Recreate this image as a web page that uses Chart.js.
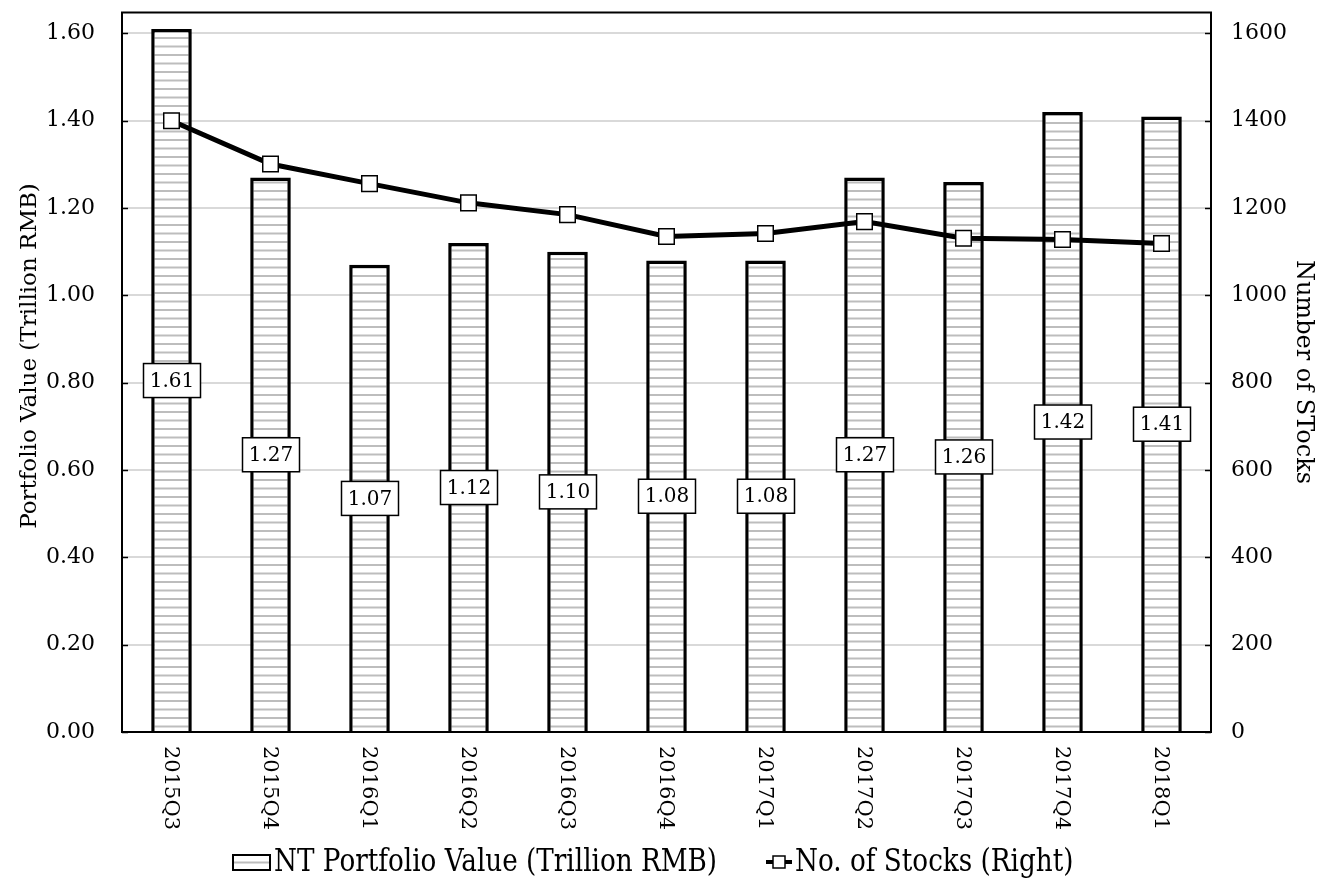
<!DOCTYPE html>
<html>
<head>
<meta charset="utf-8">
<script src="https://cdn.jsdelivr.net/npm/chart.js@4"></script>
<style>
  html, body { margin: 0; padding: 0; background: #fff; }
</style>
</head>
<body>
<canvas id="chart" width="1332" height="888"></canvas>
<script>
var quarters = ["2015Q3", "2015Q4", "2016Q1", "2016Q2", "2016Q3", "2016Q4", "2017Q1", "2017Q2", "2017Q3", "2017Q4", "2018Q1"];
var portfolioValue = [1.61, 1.27, 1.07, 1.12, 1.10, 1.08, 1.08, 1.27, 1.26, 1.42, 1.41];
var stockCount = [1400, 1301, 1256, 1212, 1185, 1135, 1142, 1169, 1131, 1128, 1119];
var barLabel = "NT Portfolio Value (Trillion RMB)";
var lineLabel = "No. of Stocks (Right)";
var leftTitle = "Portfolio Value (Trillion RMB)";
var rightTitle = "Number of STocks";

var serif = "'DejaVu Serif', serif";

// striped fill like the excel pattern
function makeStripes() {
  var c = document.createElement("canvas");
  c.width = 8;
  c.height = 17;
  var g = c.getContext("2d");
  g.fillStyle = "#fff";
  g.fillRect(0, 0, 8, 17);
  g.fillStyle = "#bdbdbd";
  g.fillRect(0, 3, 8, 2);
  g.fillRect(0, 11.5, 8, 2);
  return document.getElementById("chart").getContext("2d").createPattern(c, "repeat");
}
var stripes = makeStripes();

var extras = {
  id: "extras",
  afterDraw: function(chart) {
    var ctx = chart.ctx;
    var area = chart.chartArea;
    var x = chart.scales.x, y = chart.scales.y, y1 = chart.scales.y1;
    ctx.save();

    // top border of plot
    ctx.strokeStyle = "#000";
    ctx.lineWidth = 2;
    ctx.beginPath();
    ctx.moveTo(area.left - 1, area.top);
    ctx.lineTo(area.right + 1, area.top);
    ctx.stroke();

    // small inside tick marks
    ctx.lineWidth = 1.5;
    y.ticks.forEach(function(t) {
      var py = Math.round(y.getPixelForValue(t.value)) + 0.5;
      ctx.beginPath();
      ctx.moveTo(area.left, py);
      ctx.lineTo(area.left + 6, py);
      ctx.stroke();
    });
    y1.ticks.forEach(function(t) {
      var py = Math.round(y1.getPixelForValue(t.value)) + 0.5;
      ctx.beginPath();
      ctx.moveTo(area.right - 6, py);
      ctx.lineTo(area.right, py);
      ctx.stroke();
    });

    // x labels, rotated clockwise
    ctx.fillStyle = "#000";
    ctx.font = "21px " + serif;
    ctx.textAlign = "left";
    ctx.textBaseline = "middle";
    quarters.forEach(function(q, i) {
      ctx.save();
      ctx.translate(x.getPixelForValue(i) - 1, area.bottom + 14);
      ctx.rotate(Math.PI / 2);
      ctx.fillText(q, 0, 0);
      ctx.restore();
    });

    // value boxes in the middle of the bars
    ctx.font = "20px " + serif;
    ctx.textAlign = "center";
    portfolioValue.forEach(function(v, i) {
      var cx = x.getPixelForValue(i);
      var cy = y.getPixelForValue(v / 2);
      ctx.fillStyle = "#fff";
      ctx.fillRect(cx - 28, cy - 17, 57, 34);
      ctx.strokeStyle = "#000";
      ctx.lineWidth = 1.5;
      ctx.strokeRect(cx - 28, cy - 17, 57, 34);
      ctx.fillStyle = "#000";
      ctx.fillText(v.toFixed(2), cx + 0.5, cy + 1);
    });

    // axis titles
    ctx.font = "23px " + serif;
    ctx.save();
    ctx.translate(30, 356);
    ctx.rotate(-Math.PI / 2);
    ctx.fillText(leftTitle, 0, 0);
    ctx.restore();
    ctx.font = "24px " + serif;
    ctx.save();
    ctx.translate(1303, 372);
    ctx.rotate(Math.PI / 2);
    ctx.fillText(rightTitle, 0, 0);
    ctx.restore();

    // legend
    var ly = 862;
    ctx.fillStyle = stripes;
    ctx.fillRect(233, ly - 7, 37, 15);
    ctx.strokeStyle = "#000";
    ctx.lineWidth = 2;
    ctx.strokeRect(233, ly - 7, 37, 15);

    ctx.lineWidth = 4;
    ctx.beginPath();
    ctx.moveTo(766, ly);
    ctx.lineTo(792, ly);
    ctx.stroke();
    ctx.fillStyle = "#fff";
    ctx.fillRect(773, ly - 6, 12, 12);
    ctx.lineWidth = 1.5;
    ctx.strokeRect(773, ly - 6, 12, 12);

    ctx.fillStyle = "#000";
    ctx.font = "32px " + serif;
    ctx.textAlign = "left";
    [[barLabel, 274], [lineLabel, 795]].forEach(function(it) {
      ctx.save();
      ctx.translate(it[1], ly + 1);
      ctx.scale(0.82, 1);
      ctx.fillText(it[0], 0, 0);
      ctx.restore();
    });

    ctx.restore();
  }
};

function noPad(s) {
  s.paddingTop = 0;
  s.paddingBottom = 0;
}

var chart = new Chart(document.getElementById("chart"), {
  data: {
    labels: quarters,
    datasets: [{
      type: "line",
      label: lineLabel,
      data: stockCount,
      yAxisID: "y1",
      order: 0,
      borderColor: "#000",
      borderWidth: 5,
      tension: 0,
      pointStyle: "rect",
      pointRadius: 11,
      pointBackgroundColor: "#fff",
      pointBorderColor: "#000",
      pointBorderWidth: 1.5
    }, {
      type: "bar",
      label: barLabel,
      data: portfolioValue,
      yAxisID: "y",
      order: 1,
      backgroundColor: stripes,
      borderColor: "#000",
      borderWidth: 3.5,
      categoryPercentage: 1,
      barPercentage: 0.41
    }]
  },
  options: {
    responsive: false,
    animation: false,
    devicePixelRatio: 1,
    layout: { padding: { top: 10, left: 0, right: 0, bottom: 0 } },
    plugins: {
      legend: { display: false },
      tooltip: { enabled: false }
    },
    scales: {
      x: {
        ticks: { display: false },
        grid: { display: false },
        border: { color: "#000", width: 2 },
        afterFit: function(s) { s.height = 156; s.paddingLeft = 0; s.paddingRight = 0; }
      },
      y: {
        position: "left",
        min: 0,
        max: 1.648,
        ticks: {
          stepSize: 0.2,
          includeBounds: false,
          padding: 27,
          color: "#000",
          font: { family: serif, size: 22 },
          callback: function(v) { return v.toFixed(2); }
        },
        grid: { color: "#d9d9d9", lineWidth: 2, drawTicks: false },
        border: { color: "#000", width: 2 },
        afterFit: function(s) { s.width = 122; noPad(s); }
      },
      y1: {
        position: "right",
        min: 0,
        max: 1648,
        ticks: {
          stepSize: 200,
          includeBounds: false,
          padding: 20,
          color: "#000",
          font: { family: serif, size: 22 },
          callback: function(v) { return String(v); }
        },
        grid: { drawOnChartArea: false, drawTicks: false },
        border: { color: "#000", width: 2 },
        afterFit: function(s) { s.width = 121; noPad(s); }
      }
    }
  },
  plugins: [extras]
});
</script>
</body>
</html>
